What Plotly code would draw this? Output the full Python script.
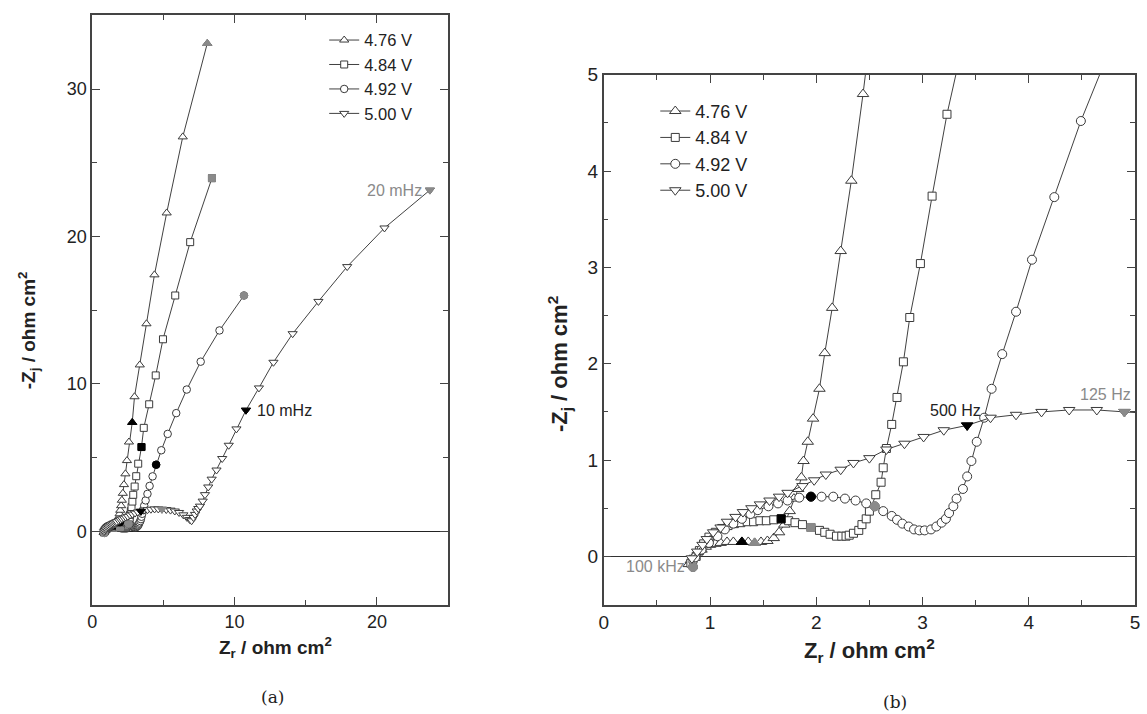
import plotly.graph_objects as go

W, H = 1147, 714

# ---------------- data (ohm cm^2), high -> low frequency ----------------
series_names = ["4.76 V", "4.84 V", "4.92 V", "5.00 V"]

zr_476 = [0.80, 0.82, 0.85, 0.88, 0.92, 0.96, 1.00, 1.05, 1.10, 1.16, 1.22, 1.30, 1.36, 1.42,
          1.48, 1.54, 1.60, 1.65, 1.70, 1.75, 1.79, 1.83, 1.86, 1.88, 1.92, 1.97, 2.03, 2.08,
          2.15, 2.23, 2.33, 2.44, 2.58, 2.81, 2.97, 3.34, 3.81, 4.37, 5.23, 6.36, 8.08]
zj_476 = [-0.08, -0.04, 0.00, 0.04, 0.07, 0.10, 0.12, 0.13, 0.14, 0.15, 0.15, 0.15, 0.15, 0.14,
          0.15, 0.16, 0.19, 0.25, 0.33, 0.47, 0.60, 0.70, 0.82, 0.99, 1.19, 1.43, 1.74, 2.11,
          2.58, 3.17, 3.90, 4.80, 6.06, 7.39, 9.13, 11.29, 14.08, 17.4, 21.6, 26.76, 33.1]

zr_484 = [0.82, 0.84, 0.87, 0.90, 0.94, 0.99, 1.05, 1.11, 1.17, 1.23, 1.29, 1.35, 1.41, 1.47,
          1.53, 1.60, 1.67, 1.74, 1.80, 1.87, 1.95, 2.03, 2.08, 2.13, 2.19, 2.24, 2.28, 2.31,
          2.35, 2.40, 2.43, 2.47, 2.50, 2.56, 2.61, 2.63, 2.66, 2.71, 2.76, 2.82, 2.88, 2.98,
          3.09, 3.23, 3.46, 3.62, 4.00, 4.46, 4.97, 5.83, 6.88, 8.41]
zj_484 = [-0.07, -0.03, 0.00, 0.06, 0.13, 0.20, 0.25, 0.29, 0.32, 0.34, 0.35, 0.36, 0.36, 0.37,
          0.37, 0.38, 0.39, 0.37, 0.35, 0.33, 0.30, 0.27, 0.25, 0.23, 0.21, 0.21, 0.21, 0.22,
          0.24, 0.27, 0.33, 0.39, 0.47, 0.64, 0.77, 0.92, 1.12, 1.37, 1.65, 2.02, 2.48, 3.04,
          3.74, 4.59, 5.72, 7.02, 8.62, 10.58, 13.03, 16.0, 19.62, 23.96]

zr_492 = [0.84, 0.86, 0.92, 0.99, 1.07, 1.14, 1.22, 1.30, 1.38, 1.45, 1.55, 1.64, 1.73, 1.84,
          1.95, 2.05, 2.16, 2.27, 2.37, 2.47, 2.55, 2.63, 2.71, 2.76, 2.81, 2.87, 2.92, 2.97,
          3.02, 3.08, 3.13, 3.18, 3.22, 3.25, 3.29, 3.32, 3.38, 3.42, 3.46, 3.51, 3.58, 3.65,
          3.75, 3.88, 4.03, 4.24, 4.49, 4.85, 5.30, 5.90, 6.64, 7.62, 8.94, 10.66]
zj_492 = [-0.11, -0.01, 0.07, 0.14, 0.21, 0.28, 0.34, 0.39, 0.44, 0.48, 0.52, 0.55, 0.58, 0.61,
          0.62, 0.62, 0.62, 0.60, 0.58, 0.55, 0.52, 0.47, 0.42, 0.38, 0.34, 0.31, 0.28, 0.27,
          0.27, 0.28, 0.31, 0.35, 0.39, 0.45, 0.52, 0.60, 0.70, 0.83, 0.99, 1.19, 1.44, 1.74,
          2.10, 2.54, 3.08, 3.73, 4.52, 5.50, 6.61, 8.02, 9.62, 11.51, 13.63, 16.0]

zr_500 = [0.83, 0.88, 0.93, 0.97, 1.03, 1.10, 1.16, 1.24, 1.31, 1.39, 1.47, 1.56, 1.65, 1.73,
          1.87, 1.98, 2.09, 2.23, 2.35, 2.50, 2.66, 2.83, 3.01, 3.20, 3.42, 3.64, 3.88, 4.12,
          4.38, 4.64, 4.90, 5.20, 5.50, 5.80, 6.10, 6.40, 6.65, 6.85, 6.98, 7.11, 7.22, 7.34,
          7.45, 7.57, 7.76, 7.92, 8.15, 8.39, 8.73, 9.13, 9.59, 10.13, 10.80, 11.71, 12.73,
          14.08, 15.89, 17.91, 20.53, 23.72]
zj_500 = [-0.02, 0.05, 0.12, 0.18, 0.25, 0.30, 0.36, 0.41, 0.46, 0.50, 0.54, 0.58, 0.62, 0.66,
          0.73, 0.79, 0.85, 0.90, 0.97, 1.02, 1.11, 1.17, 1.24, 1.31, 1.36, 1.44, 1.47, 1.50,
          1.52, 1.52, 1.50, 1.48, 1.44, 1.38, 1.28, 1.12, 0.95, 0.80, 0.72, 0.94, 1.15, 1.38,
          1.55, 1.71, 2.05, 2.49, 3.01, 3.54, 4.16, 4.94, 5.84, 6.95, 8.22, 9.73, 11.47,
          13.41, 15.6, 17.96, 20.58, 23.15]

# indices of highlighted (filled) frequency points
black_b = [11, 16, 14, 24]            # panel (b) black markers
gray_b = [[13], [20], [0, 20], [30]]  # panel (b) grey markers
black_a = [33, 44, 46, 52]            # panel (a) black markers
gray_a = [[40], [51], [53], [59]]     # panel (a) grey markers (last point)

freq_labels_a = ["20 mHz", "10 mHz"]
freq_labels_b = ["100 kHz", "500 Hz", "125 Hz"]

# ---------------- styling ----------------
ZR = [zr_476, zr_484, zr_492, zr_500]
ZJ = [zj_476, zj_484, zj_492, zj_500]
symbols = ["triangle-up", "square", "circle", "triangle-down"]
size_a = [8, 7, 7.5, 8]
size_b = [10, 8, 9, 10]
LINE = "#2b2b2b"
MK = "#3a3a3a"
GRAY = "#8a8a8a"
FONT = "Liberation Sans, Arial, sans-serif"

fig = go.Figure()

for i in range(4):
    for panel, (xa, ya, sz, leg) in enumerate([("x", "y", size_a, "legend"), ("x2", "y2", size_b, "legend2")]):
        fig.add_trace(go.Scatter(
            x=ZR[i], y=ZJ[i], mode="lines+markers", name=series_names[i],
            xaxis=xa, yaxis=ya, legend=leg, showlegend=True,
            line=dict(color=LINE, width=0.9),
            marker=dict(symbol=symbols[i], size=sz[i], color="white",
                        line=dict(color=MK, width=1)),
        ))
        if panel == 0:
            blk = [black_a[i], black_b[i]]
            gry = gray_a[i] + gray_b[i]
        else:
            blk = [black_b[i]]
            gry = gray_b[i]
        fig.add_trace(go.Scatter(
            x=[ZR[i][k] for k in blk], y=[ZJ[i][k] for k in blk], mode="markers",
            xaxis=xa, yaxis=ya, showlegend=False, hoverinfo="skip",
            marker=dict(symbol=symbols[i], size=sz[i], color="black",
                        line=dict(color="black", width=1)),
        ))
        gsym = ["circle" if (i == 2 and k == 0) else symbols[i] for k in gry]
        fig.add_trace(go.Scatter(
            x=[ZR[i][k] for k in gry], y=[ZJ[i][k] for k in gry], mode="markers",
            xaxis=xa, yaxis=ya, showlegend=False, hoverinfo="skip",
            marker=dict(symbol=gsym, size=sz[i], color=GRAY,
                        line=dict(color=GRAY, width=1)),
        ))

# ---------------- axes ----------------
def axis_style(rng, dtick, minor, fs, **kw):
    d = dict(range=rng, dtick=dtick, showgrid=False, showline=True, linecolor="#444",
             linewidth=1.5, mirror="ticks", ticks="inside", ticklen=8, tickwidth=1.2,
             tickcolor="#444", minor=dict(ticks="inside", ticklen=5, dtick=minor,
                                          tickwidth=1.2, tickcolor="#444", showgrid=False),
             tickfont=dict(family=FONT, size=fs, color="#222"), zeroline=False)
    d.update(kw)
    return d

xa_dom = [88 / W, 447 / W]
ya_dom = [1 - 603.5 / H, 1 - 5.5 / H]
xb_dom = [604 / W, 1140 / W]
yb_dom = [1 - 603 / H, 1 - 65.7 / H]

fig.update_layout(
    width=W, height=H, margin=dict(l=0, r=0, t=0, b=0),
    paper_bgcolor="white", plot_bgcolor="white",
    xaxis=axis_style([0, 25], 10, 5, 18, domain=xa_dom, anchor="y"),
    yaxis=axis_style([-5, 35], 10, 5, 18, domain=ya_dom, anchor="x",
                     zeroline=True, zerolinecolor="#222", zerolinewidth=1.2),
    xaxis2=axis_style([0, 5], 1, 0.5, 19, domain=xb_dom, anchor="y2"),
    yaxis2=axis_style([-0.5, 5], 1, 0.5, 19, domain=yb_dom, anchor="x2",
                      zeroline=True, zerolinecolor="#333", zerolinewidth=1.2),
    legend=dict(x=322 / W, y=1 - 13 / H, xanchor="left", yanchor="top",
                bgcolor="rgba(0,0,0,0)", font=dict(family=FONT, size=16.5, color="#222"),
                tracegroupgap=0, itemwidth=30),
    legend2=dict(x=656 / W, y=1 - 84 / H, xanchor="left", yanchor="top",
                 bgcolor="rgba(0,0,0,0)", font=dict(family=FONT, size=18, color="#222"),
                 tracegroupgap=0, itemwidth=30),
    showlegend=True,
)

# ---------------- text ----------------
ann = []
def t(text, x, y, xref, yref, size, color="#222", xanchor="center", yanchor="middle",
      angle=0, family=FONT):
    ann.append(dict(text=text, x=x, y=y, xref=xref, yref=yref, showarrow=False,
                    font=dict(family=family, size=size, color=color),
                    xanchor=xanchor, yanchor=yanchor, textangle=angle))

# frequency labels
t(freq_labels_a[0], zr_500[59] - 0.4, zj_500[59], "x", "y", 16, GRAY, "right")
t(freq_labels_a[1], zr_500[52] + 0.6, zj_500[52], "x", "y", 16, "#222", "left")
t(freq_labels_b[0], zr_492[0] - 0.06, zj_492[0], "x2", "y2", 16, GRAY, "right")
t(freq_labels_b[1], 3.57, 1.51, "x2", "y2", 16, "#222", "right")
t(freq_labels_b[2], 4.98, 1.68, "x2", "y2", 16, GRAY, "right")

# axis titles
t("<b>Z<sub>r</sub> / ohm cm<sup>2</sup></b>", 273 / W, 1 - 647 / H, "paper", "paper", 19)
t("<b>-Z<sub>j</sub> / ohm cm<sup>2</sup></b>", 24 / W, 1 - 325 / H, "paper", "paper", 19, angle=-90)
t("<b>Z<sub>r</sub> / ohm cm<sup>2</sup></b>", 872 / W, 1 - 650 / H, "paper", "paper", 22)
t("<b>-Z<sub>j</sub> / ohm cm<sup>2</sup></b>", 560 / W, 1 - 359 / H, "paper", "paper", 22, angle=-90)

# panel labels
t("(a)", 270 / W, 1 - 697 / H, "paper", "paper", 17, "#222", family="DejaVu Serif, Liberation Serif, serif")
t("(b)", 898 / W, 1 - 702 / H, "paper", "paper", 17, "#222", family="DejaVu Serif, Liberation Serif, serif")

fig.update_layout(annotations=ann)

fig.write_html("out.html")
